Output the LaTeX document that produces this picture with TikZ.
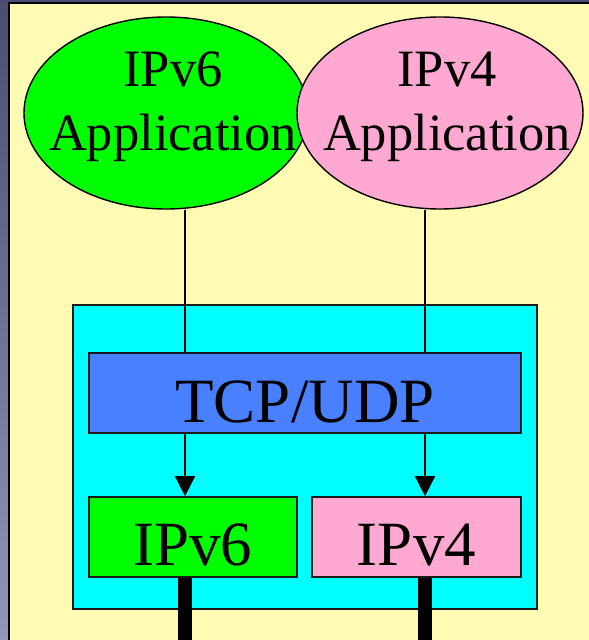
\documentclass[tikz,border=0pt]{standalone}
\usepackage{fontspec}
\setmainfont{Liberation Serif}
\usetikzlibrary{shapes.geometric,arrows.meta}
\definecolor{bgyellow}{HTML}{FFFBB4}
\definecolor{stripTop}{HTML}{4A4C70}
\definecolor{stripBot}{HTML}{9496B8}
\definecolor{appgreen}{HTML}{00FF00}
\definecolor{apppink}{HTML}{FFA8D2}
\definecolor{stackcyan}{HTML}{00FFFF}
\definecolor{tcpblue}{HTML}{4880FF}
\definecolor{edge}{HTML}{1A1A1A}
\begin{document}
\begin{tikzpicture}[x=1pt,y=1pt,
  boxshape/.style={draw=edge, line width=1.6pt, rectangle, inner sep=0pt},
  appshape/.style={draw=black, line width=1.4pt, ellipse, inner sep=0pt, minimum height=192pt},
  lbl/.style={inner sep=0pt, anchor=base},
  ellfont/.style={font=\fontsize{52.5}{60}\selectfont},
  boxfont/.style={font=\fontsize{63}{72}\selectfont},
  conn/.style={draw=black, line width=1.4pt},
  wire/.style={draw=black, line width=14pt}
]
\useasboundingbox (0,0) rectangle (589,640);
\fill[bgyellow] (0,0) rectangle (589,640);
\shade[top color=stripTop, bottom color=stripBot] (0,0) rectangle (8,640);
\fill[stripTop] (0,637.6) rectangle (589,640);
\draw[black, line width=1.8pt] (9,0) -- (9,637.3) -- (589,637.3);

% protocol stack
\node[boxshape, fill=stackcyan, minimum width=464pt, minimum height=304pt] (stack) at (305,183) {};
\node[boxshape, fill=tcpblue, minimum width=432pt, minimum height=80pt] (tcp) at (305,247) {};
\node[boxshape, fill=appgreen, minimum width=208pt, minimum height=80pt] (ip6) at (193,103) {};
\node[boxshape, fill=apppink, minimum width=209pt, minimum height=80pt] (ip4) at (416.5,103) {};

% applications
\node[appshape, fill=appgreen, minimum width=284pt] (gapp) at (166,527) {};
\node[lbl, ellfont] (g1) at (173,553) {IPv6};
\node[lbl, ellfont] (g2) at (173,489) {Application};
\node[appshape, fill=apppink, minimum width=286pt] (papp) at (440,527) {};
\node[lbl, ellfont] (p1) at (447,553) {IPv4};
\node[lbl, ellfont] (p2) at (447,489) {Application};

% connector positions
\coordinate (x6) at (185,0);
\coordinate (x4) at (425,0);

\draw[conn] (x6 |- gapp.south) -- (x6 |- tcp.north);
\draw[conn, -{Triangle[width=20pt,length=20pt]}] (x6 |- tcp.south) -- (x6 |- ip6.north);
\draw[conn] (x4 |- papp.south) -- (x4 |- tcp.north);
\draw[conn, -{Triangle[width=20pt,length=20pt]}] (x4 |- tcp.south) -- (x4 |- ip4.north);

% physical links
\draw[wire] (x6 |- ip6.south) -- (x6);
\draw[wire] (x4 |- ip4.south) -- (x4);

% box labels
\node[lbl, boxfont] (tcptxt) at (305,217) {TCP/UDP};
\node[lbl, boxfont] (ip6txt) at (193,74) {IPv6};
\node[lbl, boxfont] (ip4txt) at (416.5,74) {IPv4};
\end{tikzpicture}
\end{document}
